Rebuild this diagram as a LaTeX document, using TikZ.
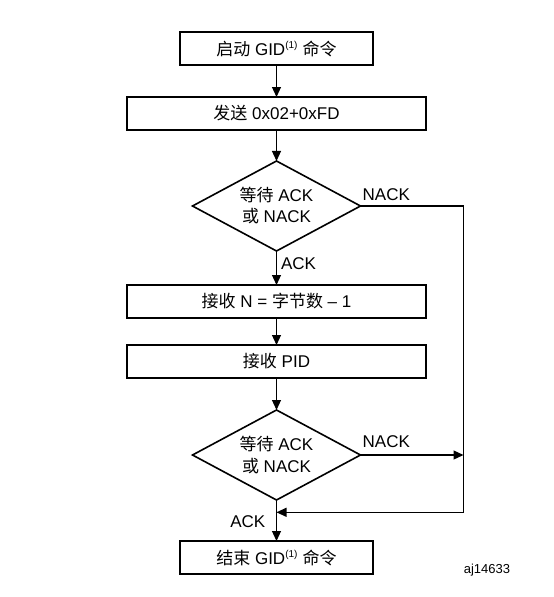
\documentclass[tikz,border=0pt]{standalone}
\usepackage{fontspec}
\setmainfont{Liberation Sans}
\newfontfamily\zhfont{Noto Sans CJK SC}
\newcommand{\zh}[1]{{\zhfont #1}}
\usetikzlibrary{arrows.meta,positioning,shapes.geometric,calc}
\tikzset{
  stepbox/.style = {draw, line width=2.3pt, minimum height=33pt, inner sep=0pt,
                    outer sep=0pt, font=\fontsize{17}{21}\selectfont},
  waitdia/.style = {draw, diamond, aspect=1.85, line width=1.6pt, minimum width=168pt,
                    minimum height=90pt, inner sep=0pt, outer sep=0pt, align=center,
                    font=\fontsize{17}{21}\selectfont},
  flow/.style    = {-{Triangle[length=10pt,width=9pt]}, line width=1.2pt},
  lbl/.style     = {font=\fontsize{17}{21}\selectfont, inner sep=2pt},
}

\begin{document}
\begin{tikzpicture}[x=1pt,y=1pt]
  \useasboundingbox (0,0) rectangle (554,-597);
  \node[stepbox,minimum width=192.5pt] (start) at (276.5,-48.5)
    {\zh{启动} GID\textsuperscript{\fontsize{10}{10}\selectfont(1)} \zh{命令}};
  \node[stepbox,minimum width=299.5pt,below=32pt of start] (send) {\zh{发送} 0x02+0xFD};
  \node[waitdia,below=31pt of send] (wait1) {\zh{等待} ACK\\\zh{或} NACK};
  \node[stepbox,minimum width=299.5pt,below=34pt of wait1] (recvn) {\zh{接收} N = \zh{字节数} – 1};
  \node[stepbox,minimum width=299.5pt,below=27pt of recvn] (recvpid) {\zh{接收} PID};
  \node[waitdia,below=32pt of recvpid] (wait2) {\zh{等待} ACK\\\zh{或} NACK};
  \node[stepbox,minimum width=192.5pt,below=41pt of wait2] (stop)
    {\zh{结束} GID\textsuperscript{\fontsize{10}{10}\selectfont(1)} \zh{命令}};

  % right-hand NACK rail
  \coordinate (rail) at ($(wait1.east)+(103,0)$);
  \coordinate (join) at ($(wait2.south)!0.3!(stop.north)$);

  \draw[flow] (start) -- (send);
  \draw[flow] (send) -- (wait1);
  \draw[flow] (wait1) -- node[lbl,anchor=north west,pos=0.05,xshift=2pt,yshift=-2pt] {ACK} (recvn);
  \draw[flow] (recvn) -- (recvpid);
  \draw[flow] (recvpid) -- (wait2);
  \draw[flow] (wait2) -- (stop);
  \draw[flow] (wait1.east) -- (rail) |- (join);
  \draw[flow] (wait2.east) -- (wait2.east -| rail);

  \node[lbl,anchor=south west,yshift=3pt] at (wait1.east) {NACK};
  \node[lbl,anchor=south west,yshift=5pt] at (wait2.east) {NACK};
  \node[lbl,anchor=north east,xshift=-9pt,yshift=-1pt] at (join) {ACK};
  \node[font=\fontsize{13}{15}\selectfont] (fig) at (487,-570) {aj14633};
\end{tikzpicture}
\end{document}
